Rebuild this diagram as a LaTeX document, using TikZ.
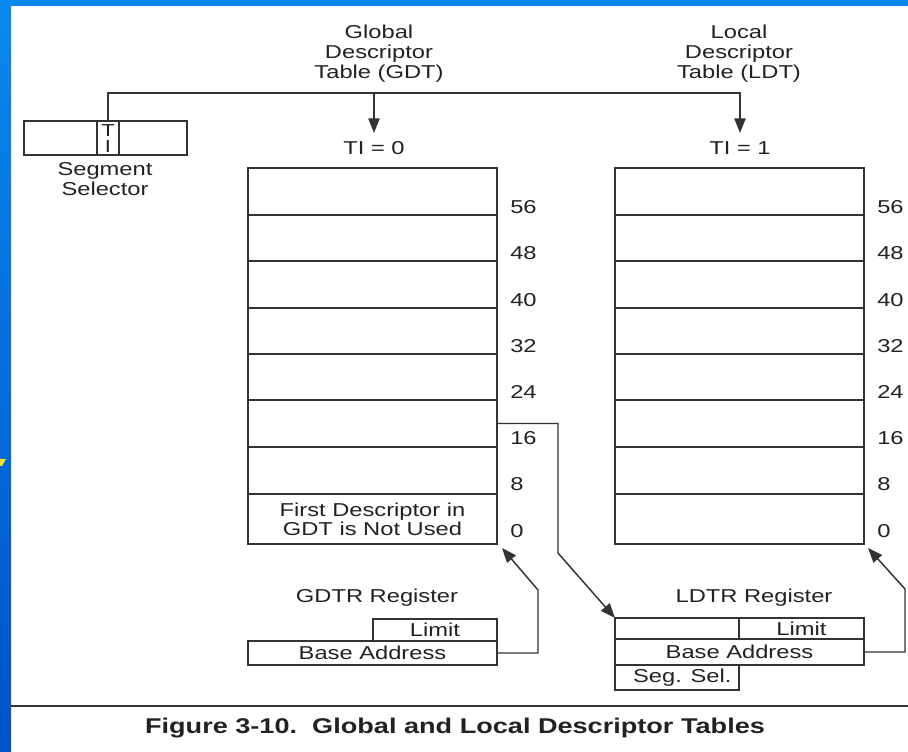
\documentclass[tikz,border=0pt]{standalone}
\usepackage{fontspec}
\setmainfont[FakeStretch=1.27]{Liberation Sans}
\usetikzlibrary{arrows.meta,fit}
\definecolor{ink}{HTML}{222222}
\definecolor{wirec}{HTML}{333333}
\definecolor{bluetop}{HTML}{0A88EE}
\definecolor{bluebot}{HTML}{0052C8}
\definecolor{wedge}{HTML}{F5E51A}

\begin{document}
\begin{tikzpicture}[x=0.75pt,y=-0.75pt,
  txt/.style={font=\fontsize{14pt}{15pt}\selectfont, text=ink, inner sep=0pt, align=center},
  cell/.style={draw=wirec, line width=1.1pt, inner sep=0pt, outer sep=0pt},
  numlbl/.style={txt, anchor=west},
  wire/.style={draw=wirec, line width=1.1pt},
  tip/.style={-{Triangle[length=11pt,width=8.5pt]}},
]
% page and slide frame
\useasboundingbox (0,0) rectangle (908,752);
\fill[white] (0,0) rectangle (908,752);
\shade[top color=bluetop, bottom color=bluebot] (0,0) rectangle (11,752);
\fill[bluetop] (0,0) rectangle (908,6);
\fill[wedge] (0,459) -- (6,459) -- (2,466) -- (0,466) -- cycle;

% segment selector
\node[cell, fit={(24,121) (97,155)}] (selL) {};
\node[cell, fit={(97,121) (119,155)}] (ti) {};
\node[cell, fit={(119,121) (187,155)}] (selR) {};
\node[txt, font=\fontsize{13pt}{13pt}\selectfont] (tiT) at (108,131) {T};
\node[txt, font=\fontsize{13pt}{13pt}\selectfont] (tiI) at (108,147) {I};
\node[txt] (seglbl) at (105,179) {Segment\\Selector};

% table headings
\node[txt] (gdtlbl) at (379,54) {Global\\Descriptor\\Table (GDT)};
\node[txt] (ldtlbl) at (739,54) {Local\\Descriptor\\Table (LDT)};
\node[txt] (ti0) at (374,148) {TI = 0};
\node[txt] (ti1) at (740,148) {TI = 1};

% TI bit selects the table
\coordinate (bus) at (108,93);
\coordinate (gtip) at (374,133);
\coordinate (ltip) at (740,133);
\draw[wire,tip] (ti.north) |- (bus -| ltip) -- (ltip);
\draw[wire,tip] (bus -| gtip) -- (gtip);

% descriptor tables
\foreach \i/\top/\bot/\num/\ly in {1/168/215/56/207, 2/215/261/48/253, 3/261/308/40/300,
    4/308/354/32/346, 5/354/400/24/392, 6/400/447/16/438, 7/447/494/8/484, 8/494/544/0/531} {
  \node[cell, fit={(248,\top) (497,\bot)}] (g\i) {};
  \node[cell, fit={(615,\top) (864,\bot)}] (l\i) {};
  \node[numlbl] (gn\i) at (510,\ly) {\num};
  \node[numlbl] (ln\i) at (877,\ly) {\num};
}
\node[txt, font=\fontsize{14pt}{12.75pt}\selectfont] (unused) at (g8.center)
  {First Descriptor in\\GDT is Not Used};

% GDTR register
\node[txt] (gdtrlbl) at (377,598) {GDTR Register};
\node[cell, fit={(373,619) (497,641)}] (glimit) {};
\node[cell, fit={(248,641) (497,665)}] (gbase) {};
\node[txt] (glimittxt) at (glimit.center) {Limit};
\node[txt] (gbasetxt) at (gbase.center) {Base Address};

% LDTR register
\node[txt] (ldtrlbl) at (754,598) {LDTR Register};
\node[cell, fit={(615,618) (739,639)}] (lblank) {};
\node[cell, fit={(739,618) (864,639)}] (llimit) {};
\node[cell, fit={(615,639) (864,665)}] (lbase) {};
\node[cell, fit={(615,665) (739,690)}] (lsel) {};
\node[txt] (llimittxt) at (llimit.center) {Limit};
\node[txt] (lbasetxt) at (lbase.center) {Base Address};
\node[txt] (lseltxt) at ([xshift=4]lsel.center) {Seg. Sel.};

% register and table links
\coordinate (gup) at (538,590);
\coordinate (gin) at (502,548);
\draw[wire,tip] (gbase.east) -| (gup) -- (gin);
\coordinate (lup) at (905,589);
\coordinate (lin) at (868,548);
\draw[wire,tip] (lbase.east) -| (lup) -- (lin);
\coordinate (gbend) at (558,553);
\draw[wire,tip] (g6.east) -| (gbend) -- (lblank.north west);

% caption
\draw[draw=wirec, line width=0.9pt] (11,706) -- (908,706);
\node[font=\fontsize{16pt}{18pt}\selectfont\bfseries, text=ink, inner sep=0pt] (caption)
  at (455,728) {Figure 3-10.\ \ Global and Local Descriptor Tables};
\end{tikzpicture}
\end{document}
